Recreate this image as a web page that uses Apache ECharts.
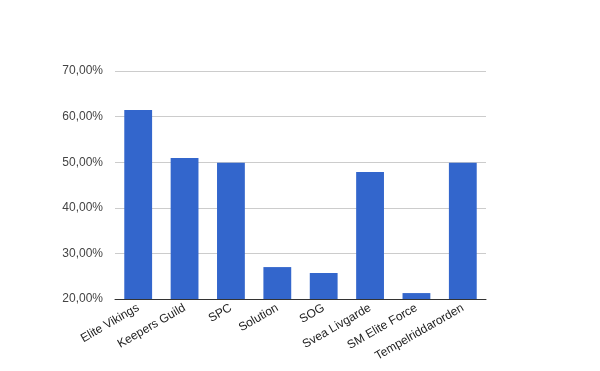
<!DOCTYPE html>
<html><head><meta charset="utf-8">
<script src="https://cdn.jsdelivr.net/npm/echarts@6/dist/echarts.min.js"></script>
<style>html,body{margin:0;padding:0;background:#fff}#c{width:600px;height:371px}</style>
</head><body><div id="c"></div>
<script>
const categories = ["Elite Vikings","Keepers Guild","SPC","Solution","SOG","Svea Livgarde","SM Elite Force","Tempelriddarorden"];
const values = [61.45, 50.9, 49.9, 27.0, 25.7, 47.85, 21.3, 49.9];
const yMin = 20, yMax = 70, yStep = 10;

const chart = echarts.init(document.getElementById('c'), null, {renderer:'canvas'});
chart.setOption({
  animation:false,
  grid:{left:115, right:114, top:71, bottom:72},
  xAxis:{type:'category', data:categories,
    axisLine:{lineStyle:{color:'#333', width:1}},
    axisTick:{show:false},
    axisLabel:{rotate:30, interval:0, color:'#222', fontFamily:'Arial, Liberation Sans', fontSize:12, margin:8}
  },
  yAxis:{type:'value', min:yMin, max:yMax, interval:yStep,
    axisLine:{show:false}, axisTick:{show:false},
    splitLine:{lineStyle:{color:'#ccc'}},
    axisLabel:{color:'#444', fontFamily:'Arial, Liberation Sans', fontSize:12, margin:12,
      formatter:v=>v.toFixed(2).replace('.',',')+'%'}
  },
  series:[{type:'bar', data:values, barCategoryGap:'40%', itemStyle:{color:'#3366cc'}}]
});
</script></body></html>
